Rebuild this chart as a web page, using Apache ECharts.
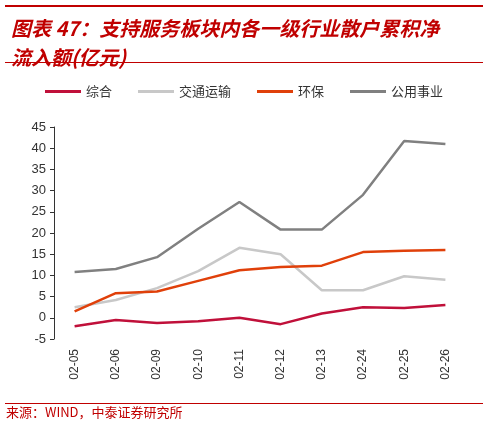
<!DOCTYPE html>
<html><head><meta charset="utf-8">
<script src="https://cdn.jsdelivr.net/npm/echarts@6/dist/echarts.min.js"></script>
<style>html,body{margin:0;padding:0;background:#fff}#c{width:488px;height:428px}</style>
</head><body><div id="c"></div>
<script>
const categories = ['02-05','02-06','02-09','02-10','02-11','02-12','02-13','02-24','02-25','02-26'];
const zonghe = [-2, -0.5, -1.2, -0.8, 0, -1.5, 1, 2.5, 2.3, 3];
const jiaotong = [2.5, 4.2, 7, 11, 16.5, 15, 6.5, 6.5, 9.8, 9];
const huanbao = [1.5, 5.8, 6.2, 8.7, 11.2, 12, 12.3, 15.5, 15.8, 16];
const gongyong = [10.8, 11.5, 14.3, 21, 27.3, 20.8, 20.8, 29, 41.7, 41];
const names = ['综合','交通运输','环保','公用事业'];
const colors = ['#C0103A','#C8C8C8','#E0400A','#808080'];
const F = '"Noto Sans CJK SC", sans-serif';
const chart = echarts.init(document.getElementById('c'));
const mk = (n,d,i)=>({name:n,type:'line',data:d,symbol:'none',lineStyle:{width:2.5,color:colors[i]},itemStyle:{color:colors[i]}});
chart.setOption({
  animation:false,
  title:{text:'图表 47：支持服务板块内各一级行业散户累积净\n流入额(亿元)',left:6,top:9,
    textStyle:{color:'#C00000',fontSize:20,fontStyle:'italic',fontWeight:'bold',fontFamily:F,lineHeight:29}},
  legend:{top:80,left:'center',itemWidth:36,itemHeight:3,itemGap:26,icon:'rect',
    textStyle:{fontSize:13,color:'#333',fontFamily:F},data:names},
  grid:{left:54,right:22,top:127,bottom:89},
  xAxis:{type:'category',data:categories,boundaryGap:true,
    axisLine:{show:false},axisTick:{show:false},
    axisLabel:{rotate:90,fontSize:12,color:'#333',fontFamily:'Liberation Sans, Arial',margin:10}},
  yAxis:{type:'value',min:-5,max:45,interval:5,
    axisLine:{show:true,lineStyle:{color:'#333'}},axisTick:{show:true,length:4,lineStyle:{color:'#333'}},
    splitLine:{show:false},
    axisLabel:{fontSize:13,color:'#333',fontFamily:'Liberation Sans, Arial'}},
  series:[mk(names[0],zonghe,0),mk(names[1],jiaotong,1),mk(names[2],huanbao,2),mk(names[3],gongyong,3)],
  graphic:[
    {type:'rect',shape:{x:5,y:5,width:478,height:2},style:{fill:'#C00000'}},
    {type:'rect',shape:{x:5,y:62,width:478,height:1},style:{fill:'#C00000'}},
    {type:'rect',shape:{x:5,y:403,width:478,height:1},style:{fill:'#C00000'}},
    {type:'text',left:6,top:406,style:{text:'来源：WIND，中泰证券研究所',fill:'#C00000',font:'13px '+F}}
  ]
});
</script></body></html>
